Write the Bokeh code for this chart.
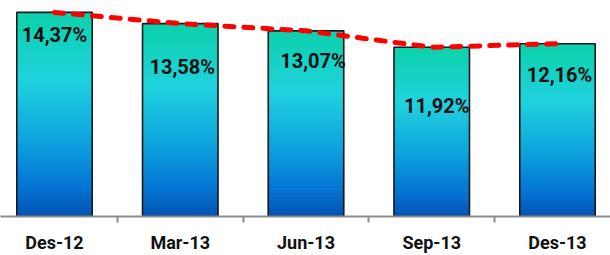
from bokeh.plotting import figure
from bokeh.models import Range1d, FixedTicker, ColumnDataSource
from bokeh.core.properties import value
from bokeh.embed import file_html
from bokeh.resources import INLINE

categories = ["Des-12", "Mar-13", "Jun-13", "Sep-13", "Des-13"]
ratios = [14.37, 13.58, 13.07, 11.92, 12.16]
labels = ["14,37%", "13,58%", "13,07%", "11,92%", "12,16%"]

# label placement styling (screen px)
label_dx = [0, 2, 7, 5, 2]
label_dy = [-23, -43, -30, -59, -31]

FONT = "Roboto"

xs = list(range(len(categories)))

p = figure(width=610, height=255, output_backend="svg", toolbar_location=None,
           x_range=Range1d(-0.4294, 4.4215), y_range=Range1d(0, 15.207),
           min_border_left=0, min_border_right=0, min_border_top=0,
           min_border_bottom=38)
p.outline_line_color = None
p.xgrid.visible = False
p.ygrid.visible = False
p.yaxis.visible = False
p.background_fill_color = "white"
p.border_fill_color = "white"

# gradient fill built from horizontal slices of each bar
stops = [(0.0, (12, 210, 170)), (0.33, (32, 210, 222)), (0.62, (14, 165, 222)),
         (0.85, (5, 118, 212)), (1.0, (4, 84, 180))]

def grad(t):
    for (a, ca), (b, cb) in zip(stops[:-1], stops[1:]):
        if a <= t <= b:
            f = (t - a) / (b - a)
            c = [round(ca[i] + (cb[i] - ca[i]) * f) for i in range(3)]
            return "#%02x%02x%02x" % tuple(c)
    return "#%02x%02x%02x" % stops[-1][1]

N = 50
sx, st, sb, sc = [], [], [], []
for x, v in zip(xs, ratios):
    for k in range(N):
        sx.append(x)
        st.append(v * (1 - k / N))
        sb.append(max(0.0, v * (1 - (k + 1) / N) - v * 0.6 / N))
        sc.append(grad((k + 0.5) / N))
p.vbar(x=sx, top=st, bottom=sb, width=0.6, fill_color=sc, line_color=sc,
       line_width=0.6)

# bar outlines
p.vbar(x=xs, top=ratios, bottom=0, width=0.6, fill_alpha=0,
       line_color="#1a1a1a", line_width=1.6)

# trend line
p.line(x=xs, y=ratios, line_color="#ff0000", line_width=5,
       line_dash="9 10", line_cap="round")

# value labels
src = ColumnDataSource(dict(x=xs, y=ratios, t=labels, dx=label_dx, dy=[-d for d in label_dy]))
p.text(x="x", y="y", text="t", x_offset="dx", y_offset="dy", source=src,
       text_align="center", text_baseline="middle",
       text_font=value(FONT), text_font_style="bold", text_font_size="20px",
       text_color="#111111")

ax = p.xaxis[0]
ax.ticker = FixedTicker(ticks=xs, minor_ticks=[i + 0.5 for i in xs[:-1]])
ax.major_label_overrides = {i: c for i, c in zip(xs, categories)}
ax.major_tick_out = 0
ax.major_tick_in = 0
ax.minor_tick_out = 6
ax.minor_tick_in = 0
ax.minor_tick_line_color = "#8c8c8c"
ax.minor_tick_line_width = 2
ax.axis_line_color = "#8c8c8c"
ax.axis_line_width = 2
ax.major_label_text_font = FONT
ax.major_label_text_font_style = "bold"
ax.major_label_text_font_size = "18px"
ax.major_label_text_color = "#111111"
ax.major_label_standoff = 9

open("out.html", "w").write(file_html(p, INLINE))
